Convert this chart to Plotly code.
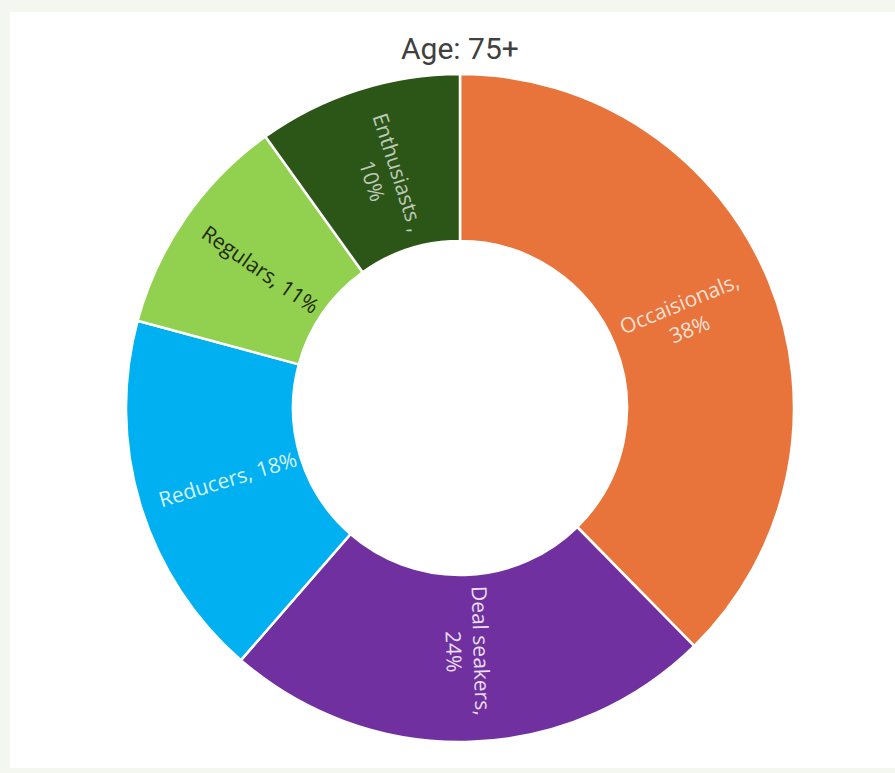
import math
import plotly.graph_objects as go

# Segment data
segments = ["Occaisionals", "Deal seakers", "Reducers", "Regulars", "Enthusiasts"]
shares = [38, 24, 18, 11, 10]
text_labels = ["Occaisionals,<br>38%", "Deal seakers,<br>24%", "Reducers, 18%",
               "Regulars, 11%", "Enthusiasts ,<br>10%"]
colors = ["#E8743B", "#7030A0", "#00B0F0", "#92D050", "#2C5618"]
text_colors = ["rgba(255,255,255,0.8)", "rgba(255,255,255,0.85)", "rgba(255,255,255,0.85)",
               "#1E2A12", "rgba(255,255,255,0.7)"]
title_text = "Age: 75+"

W, H = 895, 773
cx, cy, r = 460, 408, 334
hole = 0.5

fig = go.Figure(go.Pie(
    labels=segments,
    values=shares,
    textinfo="none",
    hole=hole,
    sort=False,
    direction="clockwise",
    rotation=0,
    marker=dict(colors=colors, line=dict(color="white", width=2.5)),
    domain=dict(x=[(cx - r) / W, (cx + r) / W], y=[(H - cy - r) / H, (H - cy + r) / H]),
    showlegend=False,
    hoverinfo="label+value",
))

# Radial slice labels placed at each slice's mid-angle, inside the ring
annotations = []
total = sum(shares)
cum = 0
r_lab = 243
for txt, val, col in zip(text_labels, shares, text_colors):
    mid = (cum + val / 2) / total * 360  # degrees clockwise from 12 o'clock
    cum += val
    ang = math.radians(mid)
    px = cx + r_lab * math.sin(ang)
    py = cy - r_lab * math.cos(ang)
    tangle = mid - 90 if mid < 180 else mid - 270
    annotations.append(dict(
        text=txt, x=px / W, y=1 - py / H, xref="paper", yref="paper",
        xanchor="center", yanchor="middle", showarrow=False, textangle=tangle,
        font=dict(family="Open Sans", size=21, color=col),
    ))

annotations.append(dict(
    text=title_text, x=cx / W, y=1 - 48 / H, xref="paper", yref="paper",
    xanchor="center", yanchor="middle", showarrow=False,
    font=dict(family="Roboto", size=30, color="#404040"),
))

fig.update_layout(
    width=W, height=H,
    margin=dict(l=0, r=0, t=0, b=0),
    paper_bgcolor="#F4F6F0",
    plot_bgcolor="#F4F6F0",
    shapes=[dict(type="rect", xref="paper", yref="paper",
                 x0=10 / W, x1=1.01, y0=(H - 768) / H, y1=(H - 12) / H,
                 fillcolor="white", line=dict(width=0), layer="below")],
    annotations=annotations,
)

fig.write_html("out.html")
